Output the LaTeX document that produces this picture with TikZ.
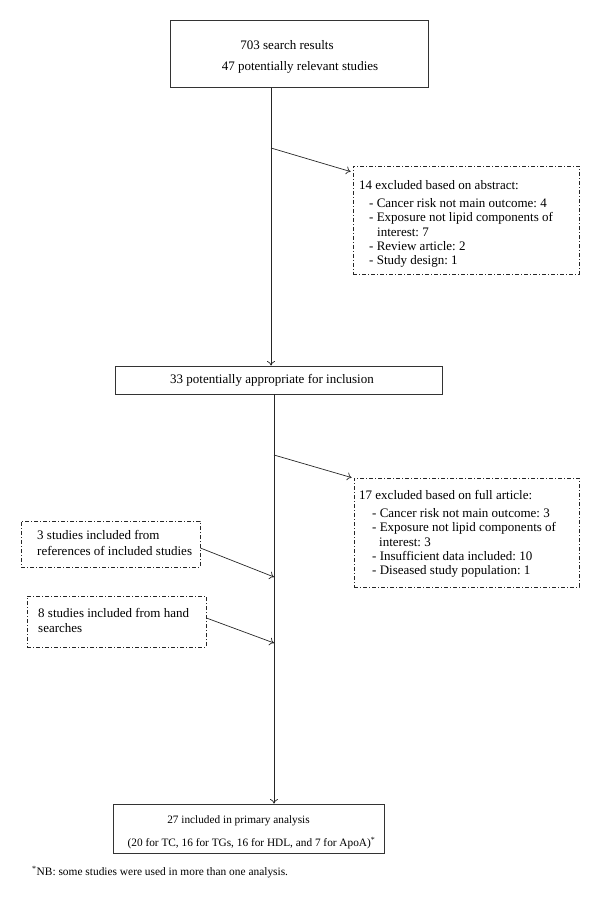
\documentclass[tikz,border=0pt]{standalone}
\usepackage{fontspec}
\setmainfont{Liberation Serif}
\usetikzlibrary{calc,arrows.meta}
\begin{document}
\frenchspacing
\begin{tikzpicture}[x=1pt,y=-1pt,
  solidbox/.style={draw=black!80,line width=0.9pt,rectangle,inner sep=0pt},
  dashbox/.style={draw=black!85,line width=0.8pt,dash pattern=on 4pt off 2pt on 1pt off 2pt,rectangle,inner sep=0pt},
  conn/.style={line width=0.7pt,draw=black!85,-{To[length=4.5pt,width=8pt]}},
  txt/.style={inner sep=0pt,font=\fontsize{13}{14.3}\selectfont},
  smalltxt/.style={inner sep=0pt,font=\fontsize{11.3}{13}\selectfont}]
\useasboundingbox (0,0) rectangle (600,901);
% boxes
\node[solidbox,minimum width=258pt,minimum height=67pt] (top) at (299,54) {};
\node[txt] (toptxt) at (287,45.5) {703 search results};
\node[txt] (toptxt2) at (300,67.5) {47 potentially relevant studies};
\node[solidbox,minimum width=327pt,minimum height=28pt] (mid) at (278.5,380) {};
\node[txt] (midtxt) at (272,380.5) {33 potentially appropriate for inclusion};
\node[dashbox,minimum width=226pt,minimum height=108pt] (ex1) at (466,220) {};
\node[txt,anchor=north west,align=left] (ex1txt) at (359,180) {14 excluded based on abstract:\\[4pt]
\hspace*{10pt}- Cancer risk not main outcome: 4\\
\hspace*{10pt}- Exposure not lipid components of\\
\hspace*{18pt}interest: 7\\
\hspace*{10pt}- Review article: 2\\
\hspace*{10pt}- Study design: 1};
\node[dashbox,minimum width=225pt,minimum height=109pt] (ex2) at (466.5,532.5) {};
\node[txt,anchor=north west,align=left] (ex2txt) at (359,490) {17 excluded based on full article:\\[4pt]
\hspace*{13pt}- Cancer risk not main outcome: 3\\
\hspace*{13pt}- Exposure not lipid components of\\
\hspace*{20pt}interest: 3\\
\hspace*{13pt}- Insufficient data included: 10\\
\hspace*{13pt}- Diseased study population: 1};
\node[dashbox,minimum width=179pt,minimum height=46pt] (inA) at (110.5,544) {};
\node[txt,anchor=north west,align=left] (inAtxt) at (37,530.5) {3 studies included from\\[1.2pt]references of included studies};
\node[dashbox,minimum width=179pt,minimum height=51pt] (inB) at (116.5,621.5) {};
\node[txt,anchor=north west,align=left] (inBtxt) at (38,608.5) {8 studies included from hand\\searches};
\node[solidbox,minimum width=271pt,minimum height=49pt] (fin) at (248.5,828.5) {};
\node[smalltxt] (fintxt1) at (238.5,820.5) {27 included in primary analysis};
\node[smalltxt] (fintxt2) at (251.5,843.5) {(20 for TC, 16 for TGs, 16 for HDL, and 7 for ApoA)\textsuperscript{*}};
\node[inner sep=0pt,anchor=west,font=\fontsize{11.4}{13}\selectfont] (note) at (32,872) {\textsuperscript{*}NB: some studies were used in more than one analysis.};
% connectors
\coordinate (v1) at (271,0);
\coordinate (v2) at (274,0);
\coordinate (b1) at (271,148);
\coordinate (b2) at (274,455);
\coordinate (jA) at (274,577);
\coordinate (jB) at (274,643);
\draw[conn] (top.south -| v1) -- (mid.north -| v1);
\draw[conn] (b1) -- ($(ex1.north west)+(-2,6)$);
\draw[conn] (mid.south -| v2) -- (fin.north -| v2);
\draw[conn] (b2) -- ($(ex2.north west)+(-2,0)$);
\draw[conn] ($(inA.east)+(0,4)$) -- (jA);
\draw[conn] ($(inB.east)+(0,-3.5)$) -- (jB);
\end{tikzpicture}
\end{document}
